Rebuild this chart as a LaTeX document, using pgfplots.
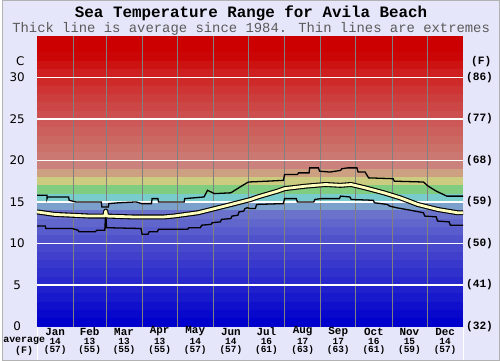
\documentclass[border=0pt]{standalone}
\usepackage{pgfplots}
\pgfplotsset{compat=1.18}
\usepackage{fontspec}
\setmainfont{DejaVu Sans}
\newfontfamily\mono{Liberation Mono}
\definecolor{bgl}{RGB}{230,230,250}
\definecolor{avgy}{RGB}{255,255,190}
\definecolor{subg}{RGB}{90,90,90}
\newcommand\mlab[4]{%
  \node[font=\mono\bfseries\fontsize{11}{11}\selectfont] at (axis cs:#1,-0.6) {#2};
  \node[font=\mono\bfseries\fontsize{9.5}{9.5}\selectfont] at (axis cs:#1,-1.76) {#3};
  \node[font=\mono\bfseries\fontsize{9.5}{9.5}\selectfont] at (axis cs:#1,-2.88) {#4};}
\newcommand\ylab[2]{%
  \node[font=\fontsize{12}{12}\selectfont] at (axis cs:-17.06,#1) {#1};
  \node[font=\mono\bfseries\fontsize{11.3}{11.3}\selectfont] at (axis cs:379,#1) {#2};}
\begin{document}
\begin{tikzpicture}
\begin{scope}[x=1bp,y=1bp]
\fill[bgl] (-35,-34) rectangle (465,328);
\draw[gray!60,line width=0.8bp] (-34.6,-33.6) rectangle (464.6,327.6);
\foreach \i/\r/\g/\b in {0/0/0/204,1/8/8/204,2/16/16/204,3/24/24/204,4/32/32/204,5/40/40/204,6/48/48/204,7/56/56/204,8/64/64/204,9/72/72/204,10/80/82/204,11/88/92/204,12/96/102/204,13/106/114/204,14/124/160/204,15/120/204/204,16/128/204/128,17/204/204/128,18/204/160/128,19/204/130/124,20/204/120/114,21/204/112/106,22/204/104/98,23/204/96/92,24/204/88/88,25/204/78/78,26/204/70/70,27/204/62/62,28/206/52/52,29/206/42/42,30/206/32/32,31/205/18/18,32/204/6/6,33/204/0/0,34/204/0/0}{%
  \definecolor{tmp}{RGB}{\r,\g,\b}
  \fill[tmp] (0,{\i*292/35}) rectangle (428,{(\i+1)*292/35+0.05});
}
\draw[white,line width=0.6bp] (0,0) -- (0,-34);
\draw[white,line width=0.6bp] (428,0) -- (428,-34);
\node[font=\mono\bfseries\fontsize{16}{16}\selectfont] at (215,314.5) {Sea Temperature Range for Avila Beach};
\node[font=\mono\fontsize{14}{14}\selectfont,text=subg] at (215,298.5) {Thick line is average since 1984. Thin lines are extremes};
\end{scope}
\begin{axis}[at={(0,0)}, anchor=south west, scale only axis,
  width=428bp, height=292bp, xmin=0, xmax=365, ymin=0, ymax=35,
  clip=false, axis line style={draw=none},
  xtick={31,59,90,120,151,181,212,243,273,304,334}, xticklabels={},
  xmajorgrids, x grid style={draw=gray, line width=0.8bp},
  ytick={5,10,15,20,25,30}, yticklabels={}, ymajorgrids,
  y grid style={draw=white, line width=1.3bp},
  major tick length=0pt, minor tick length=0pt]
% upper extreme
\addplot[black, line width=1.3bp] coordinates {
(0,15.8)(8.5,15.8)(8.5,15.4)(9,15.6)(27,15.6)(27.5,15.2)(33,15.0)(55,15.0)(55.5,14.4)(61,14.4)(61.5,14.8)(70,14.9)(85,15.0)(89.5,14.8)(98,14.8)(98.5,15.4)(103.5,15.4)(104,15.0)(126,15.0)(126.5,15.4)(143,15.6)(146,16.4)(152,16.0)(166,16.1)(175,16.9)(181,17.4)(197,17.5)(211,17.6)(212,18.3)(223,18.3)(224,18.5)(233,18.5)(233.5,19.1)(241,19.1)(242,18.7)(251,18.6)(260,18.8)(261,19.0)(266,19.1)(274,19.1)(275,18.6)(281,18.6)(284,17.9)(305,17.8)(306,17.5)(331,17.4)(335,16.9)(342,16.3)(351,15.7)(365,15.7)};
% lower extreme
\addplot[black, line width=1.3bp] coordinates {
(0,12.1)(7,12.1)(7.5,11.8)(30,11.8)(35,11.6)(36,11.4)(50,11.4)(51,11.6)(58,11.6)(58.8,13.8)(59.5,11.9)(89,11.8)(90,11.1)(95,11.1)(96,11.4)(103,11.4)(104,11.7)(129,11.7)(130,11.9)(140,11.9)(141,12.2)(149,12.3)(150,12.5)(157,12.6)(158,12.9)(166,13.0)(167,13.3)(172,13.4)(173,13.8)(177,13.9)(178,14.2)(180,14.3)(183,14.2)(187,14.2)(188,14.7)(211,14.8)(212,15.4)(222,15.4)(223,15.0)(237,15.0)(238,15.3)(243,15.4)(259,15.4)(260,15.7)(268,15.6)(269,15.3)(288,15.2)(289,14.9)(300,14.7)(302,14.5)(308,14.3)(320,14.0)(331,13.7)(332,13.3)(342,13.2)(343,12.7)(353,12.6)(354,12.2)(365,12.2)};
% average (outline + fill)
\pgfplotstableread{
d t
0 13.8
15 13.5
30 13.4
45 13.3
58 13.3
58.8 13.9
59.6 13.3
81 13.2
109 13.2
117 13.3
138 13.7
155 14.3
172 14.9
183 15.3
189 15.6
206 16.3
212 16.6
230 16.9
247 17.1
260 17.0
269 17.1
281 16.7
297 16.1
311 15.5
326 14.7
343 14.1
360 13.7
365 13.7
}\avgtab
\addplot[black, line width=5bp, line join=round] table[x=d,y=t] {\avgtab};
\addplot[avgy, line width=2.8bp, line join=round] table[x=d,y=t] {\avgtab};
% y labels
\node[font=\fontsize{12}{12}\selectfont] at (axis cs:-14.5,31.9) {C};
\node[font=\mono\bfseries\fontsize{11.3}{11.3}\selectfont] at (axis cs:380.5,31.9) {(F)};
\ylab{0}{(32)}
\ylab{5}{(41)}
\ylab{10}{(50)}
\ylab{15}{(59)}
\ylab{20}{(68)}
\ylab{25}{(77)}
\ylab{30}{(86)}
% month labels
\node[font=\mono\bfseries\fontsize{10}{10}\selectfont] at (axis cs:-11.1,-1.76) {average};
\node[font=\mono\bfseries\fontsize{10}{10}\selectfont] at (axis cs:-11.1,-2.88) {(F)};
\mlab{15.5}{Jan}{14}{(57)}
\mlab{45}{Feb}{13}{(55)}
\mlab{74.5}{Mar}{13}{(55)}
\mlab{105}{Apr}{13}{(55)}
\mlab{135.5}{May}{14}{(57)}
\mlab{166}{Jun}{14}{(57)}
\mlab{196.5}{Jul}{16}{(61)}
\mlab{227.5}{Aug}{17}{(63)}
\mlab{258}{Sep}{17}{(63)}
\mlab{288.5}{Oct}{16}{(61)}
\mlab{319}{Nov}{15}{(59)}
\mlab{349.5}{Dec}{14}{(57)}
\end{axis}
\end{tikzpicture}
\end{document}
